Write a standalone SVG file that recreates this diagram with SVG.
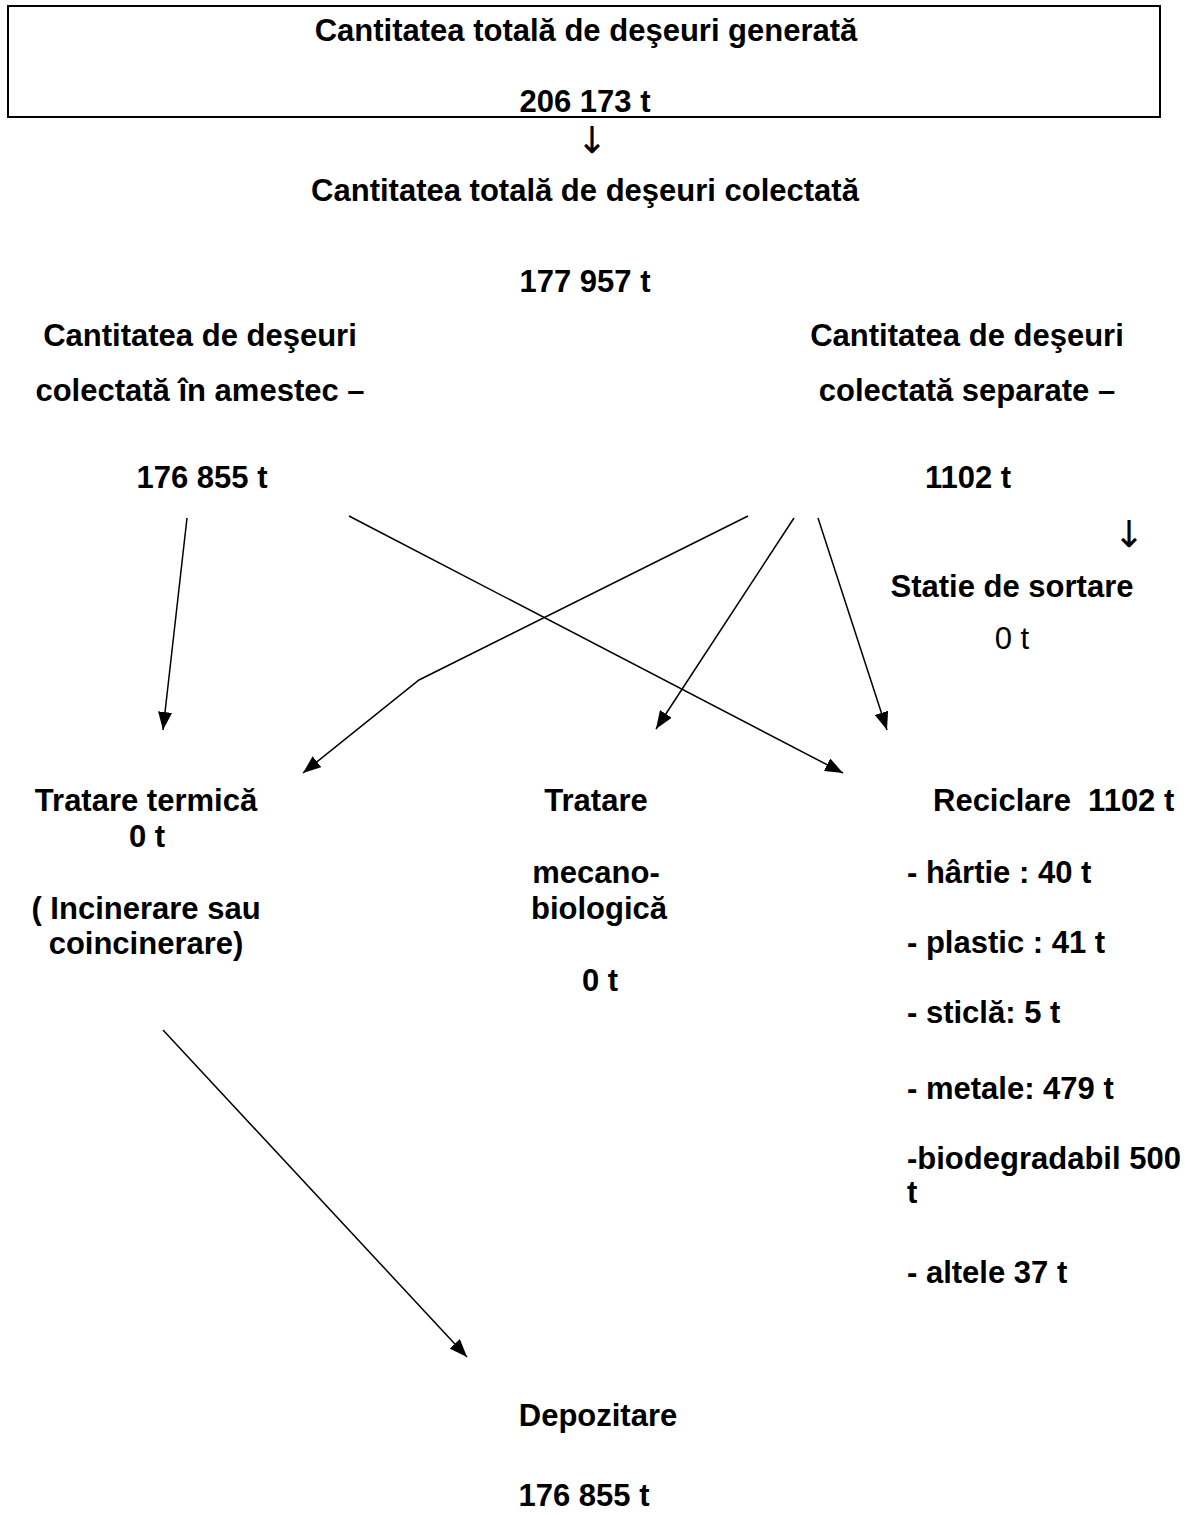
<svg xmlns="http://www.w3.org/2000/svg" width="1188" height="1515" viewBox="0 0 1188 1515">
<defs>
<style>
text{font-family:"Liberation Sans",Arial,sans-serif;font-size:31px;font-weight:bold;fill:#000}
.m{text-anchor:middle}
.r{font-weight:normal}
.arr{font-family:"DejaVu Sans",sans-serif;font-weight:normal;font-size:37px;text-anchor:middle}
.c{fill:none;stroke:#000;stroke-width:1.5}
</style>
<marker id="ah" markerUnits="userSpaceOnUse" markerWidth="18" markerHeight="14" refX="18" refY="7" orient="auto">
<path d="M0,0 L18,7 L0,14 z" fill="#000"/>
</marker>
</defs>
<rect width="1188" height="1515" fill="#fff"/>
<g id="generata">
<rect x="8" y="6" width="1152" height="111" fill="none" stroke="#000" stroke-width="2"/>
<text class="m" x="586" y="41">Cantitatea totală de deşeuri generată</text>
<text class="m" x="585" y="112">206 173 t</text>
</g>
<text class="arr" x="592" y="153">↓</text>
<g id="colectata">
<text class="m" x="585" y="201">Cantitatea totală de deşeuri colectată</text>
<text class="m" x="585" y="292">177 957 t</text>
</g>
<g id="amestec">
<text class="m" x="200" y="346">Cantitatea de deşeuri</text>
<text class="m" x="200" y="401">colectată în amestec –</text>
<text class="m" x="202" y="488">176 855 t</text>
</g>
<g id="separate">
<text class="m" x="967" y="346">Cantitatea de deşeuri</text>
<text class="m" x="967" y="401">colectată separate –</text>
<text class="m" x="968" y="488">1102 t</text>
</g>
<text class="arr" x="1129" y="547">↓</text>
<g id="sortare">
<text class="m" x="1012" y="597">Statie de sortare</text>
<text class="m r" x="1012" y="649">0 t</text>
</g>
<g id="termica">
<text class="m" x="146" y="811">Tratare termică</text>
<text class="m" x="147" y="847">0 t</text>
<text class="m" x="146" y="919">( Incinerare sau</text>
<text class="m" x="146" y="954">coincinerare)</text>
</g>
<g id="mecano">
<text class="m" x="596" y="811">Tratare</text>
<text class="m" x="596" y="883">mecano-</text>
<text class="m" x="599" y="919">biologică</text>
<text class="m" x="600" y="991">0 t</text>
</g>
<g id="reciclare">
<text x="933" y="811">Reciclare&#160; 1102 t</text>
<text x="907" y="883">- hârtie : 40 t</text>
<text x="907" y="953">- plastic : 41 t</text>
<text x="907" y="1023">- sticlă: 5 t</text>
<text x="907" y="1099">- metale: 479 t</text>
<text x="907" y="1169">-biodegradabil 500</text>
<text x="907" y="1203">t</text>
<text x="907" y="1283">- altele 37 t</text>
</g>
<g id="depozitare">
<text class="m" x="598" y="1426">Depozitare</text>
<text class="m" x="584" y="1506">176 855 t</text>
</g>
<g id="connectors">
<line class="c" x1="187" y1="518" x2="163" y2="730" marker-end="url(#ah)"/>
<line class="c" x1="349" y1="516" x2="843" y2="773" marker-end="url(#ah)"/>
<polyline class="c" points="748,516 419,680 303,773" marker-end="url(#ah)"/>
<line class="c" x1="794" y1="518" x2="656" y2="729" marker-end="url(#ah)"/>
<line class="c" x1="818" y1="518" x2="887" y2="730" marker-end="url(#ah)"/>
<line class="c" x1="163" y1="1030" x2="467" y2="1357" marker-end="url(#ah)"/>
</g>
</svg>
